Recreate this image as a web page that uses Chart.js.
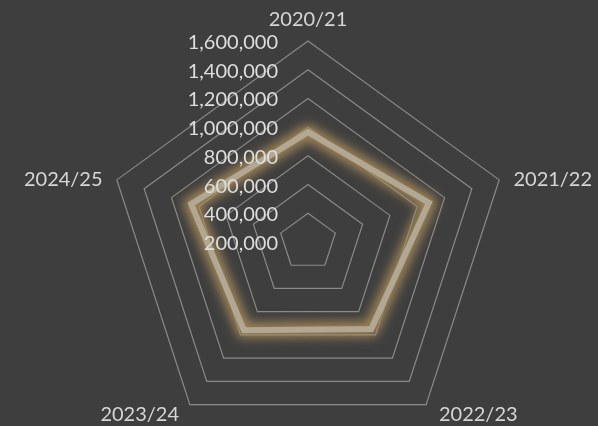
<!DOCTYPE html>
<html>
<head>
<meta charset="utf-8">
<script src="https://cdn.jsdelivr.net/npm/chart.js@4.4.1/dist/chart.umd.min.js"></script>
<style>
  html, body { margin: 0; padding: 0; background: #3e3e3e; overflow: hidden; }
  #wrap { width: 598px; height: 426px; overflow: hidden; }
  canvas { display: block; }
</style>
</head>
<body>
<div id="wrap"><canvas id="c" width="598" height="443"></canvas></div>
<script>
// Seasons shown at the corners and the total for each season
const seasons = ['2020/21', '2021/22', '2022/23', '2023/24', '2024/25'];
const totals = [965000, 1085000, 950000, 960000, 1055000];

// Radial axis range and ring spacing
const axisMin = 200000;
const axisMax = 1600000;
const axisStep = 200000;

const FONT = '20px Lato';

// Soft warm glow behind the series line: a wide blurred stroke along the
// line element's own path, then a light shadow on the line itself
const glowPlugin = {
  id: 'glow',
  beforeDatasetDraw(chart, args) {
    const ctx = chart.ctx;
    const line = args.meta.dataset;
    ctx.save();
    ctx.filter = 'blur(6px)';
    ctx.strokeStyle = 'rgba(165,142,98,0.75)';
    ctx.lineWidth = 16;
    ctx.lineJoin = 'miter';
    ctx.beginPath();
    if (line.path(ctx)) ctx.closePath();
    ctx.stroke();
    ctx.restore();

    ctx.save();
    ctx.shadowColor = 'rgba(190,145,80,0.7)';
    ctx.shadowBlur = 10;
  },
  afterDatasetDraw(chart) {
    chart.ctx.restore();
  }
};

// Value labels up the vertical axis and season names at each corner
const axisTextPlugin = {
  id: 'axisText',
  afterDatasetsDraw(chart) {
    const s = chart.scales.r;
    const ctx = chart.ctx;
    ctx.save();
    ctx.font = FONT;
    ctx.textBaseline = 'alphabetic';

    ctx.fillStyle = '#dedede';
    ctx.textAlign = 'right';
    s.ticks.forEach(t => {
      const y = s.yCenter - s.getDistanceFromCenterForValue(t.value);
      ctx.fillText(t.value.toLocaleString('en-US'), s.xCenter - 30, y + 8);
    });

    ctx.fillStyle = '#d6d6d6';
    chart.data.labels.forEach((name, i) => {
      const p = s.getPointPosition(i, s.drawingArea + 15);
      const dx = p.x - s.xCenter;
      const dy = p.y - s.yCenter;
      let align, yOff, xOff = 0;
      if (Math.abs(dx) < 1) {
        align = 'center'; yOff = 0;
      } else {
        align = dx > 0 ? 'left' : 'right';
        if (dy > s.drawingArea * 0.5) {
          yOff = 4.5;
          xOff = dx > 0 ? 4 : -2;
        } else {
          yOff = 10.5;
        }
      }
      ctx.textAlign = align;
      ctx.fillText(name, p.x + xOff, p.y + yOff);
    });
    ctx.restore();
  }
};

new Chart(document.getElementById('c'), {
  type: 'radar',
  data: {
    labels: seasons,
    datasets: [{
      data: totals,
      borderColor: 'rgba(180,171,152,0.95)',
      borderWidth: 6,
      borderJoinStyle: 'miter',
      backgroundColor: 'rgba(0,0,0,0)',
      fill: false,
      pointRadius: 0,
      pointHoverRadius: 0,
      tension: 0
    }]
  },
  options: {
    responsive: false,
    devicePixelRatio: 1,
    animation: false,
    events: [],
    layout: { padding: { left: 107, right: 89, top: 41, bottom: 0 } },
    plugins: {
      legend: { display: false },
      tooltip: { enabled: false },
      title: { display: false }
    },
    scales: {
      r: {
        min: axisMin,
        max: axisMax,
        ticks: { stepSize: axisStep, display: false },
        grid: { color: '#8a8a8a', lineWidth: 1.2 },
        angleLines: { display: false },
        pointLabels: { display: false }
      }
    }
  },
  plugins: [glowPlugin, axisTextPlugin]
});
</script>
</body>
</html>
